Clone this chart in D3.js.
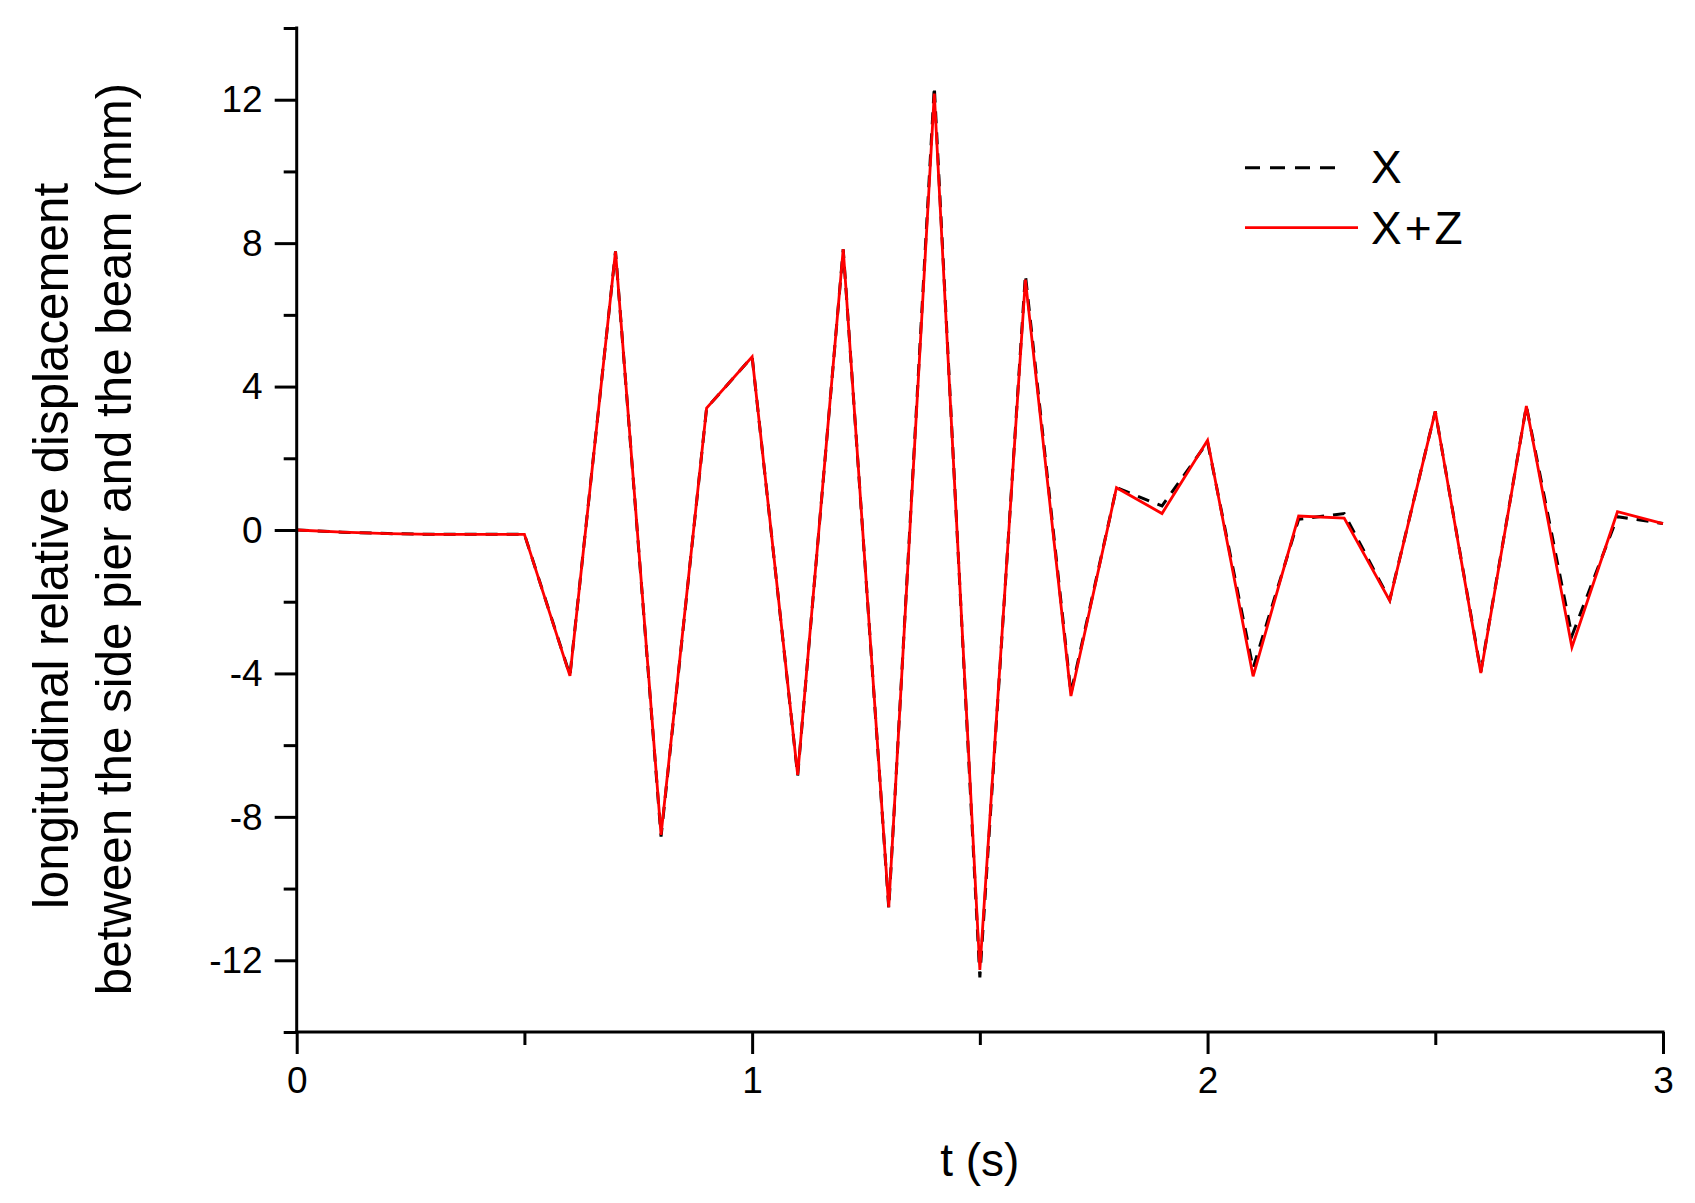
<!DOCTYPE html>
<html>
<head>
<meta charset="utf-8">
<script src="https://cdn.jsdelivr.net/npm/d3@7"></script>
<style>
html,body{margin:0;padding:0;background:#fff;}
svg text{font-family:"Liberation Sans", Arial, sans-serif;fill:#000;}
</style>
</head>
<body>
<svg id="chart" width="1695" height="1203"></svg>
<script>
const timeS = [0,0.1,0.2,0.3,0.4,0.5,0.6,0.7,0.8,0.9,1.0,1.1,1.2,1.3,1.4,1.5,1.6,1.7,1.8,1.9,2.0,2.1,2.2,2.3,2.4,2.5,2.6,2.7,2.8,2.9,3.0];
const seriesX = [0,-0.06,-0.1,-0.12,-0.12,-0.12,-4.05,7.77,-8.55,3.4,4.83,-6.85,7.83,-10.55,12.37,-12.48,7.12,-4.55,1.18,0.67,2.45,-3.85,0.3,0.46,-1.95,3.31,-3.95,3.46,-2.95,0.37,0.18];
const seriesXZ = [0,-0.06,-0.1,-0.12,-0.12,-0.12,-4.07,7.77,-8.5,3.4,4.83,-6.83,7.83,-10.52,12.17,-12.27,6.98,-4.63,1.18,0.46,2.5,-4.08,0.39,0.33,-1.97,3.31,-3.99,3.46,-3.27,0.51,0.18];
const xMajorTicks = [0,1,2,3];
const xMinorTicks = [0.5,1.5,2.5];
const yMajorTicks = [-12,-8,-4,0,4,8,12];
const yMinorTicks = [-14,-10,-6,-2,2,6,10,14];
const seriesNames = ["X","X+Z"];
const xTitle = "t (s)";
const yTitle1 = "longitudinal relative displacement";
const yTitle2 = "between the side pier and the beam (mm)";

const svg = d3.select("#chart");
const L = 296.7, R = 1663, T = 28, B = 1032;
const x = d3.scaleLinear().domain([0,3]).range([L,R]);
const y = d3.scaleLinear().domain([-14,14]).range([B,T]);

// data lines
const line = (vals) => d3.line().x((d,i)=>x(timeS[i])).y(d=>y(d))(vals);
svg.append("path").attr("d", line(seriesX)).attr("fill","none")
  .attr("stroke","#000").attr("stroke-width",3).attr("stroke-dasharray","12,9");
svg.append("path").attr("d", line(seriesXZ)).attr("fill","none")
  .attr("stroke","#ff0000").attr("stroke-width",2.8).attr("stroke-linejoin","miter");

// axes
const fmt = d => String(d);
const gx = svg.append("g").attr("transform",`translate(0,${B})`);
gx.call(d3.axisBottom(x).tickValues(xMajorTicks).tickSize(22).tickPadding(12).tickFormat(fmt));
const gxm = svg.append("g").attr("transform",`translate(0,${B})`);
gxm.call(d3.axisBottom(x).tickValues(xMinorTicks).tickSize(13).tickFormat(""));
const gy = svg.append("g").attr("transform",`translate(${L},0)`);
gy.call(d3.axisLeft(y).tickValues(yMajorTicks).tickSize(22).tickPadding(12).tickFormat(fmt));
const gym = svg.append("g").attr("transform",`translate(${L},0)`);
gym.call(d3.axisLeft(y).tickValues(yMinorTicks).tickSize(13).tickFormat(""));

[gx,gxm,gy,gym].forEach(g=>{
  g.select(".domain").remove();
  g.selectAll(".tick line").attr("stroke","#000").attr("stroke-width",3);
  g.selectAll(".tick text").attr("font-size",37).attr("font-family","Liberation Sans, Arial, sans-serif").attr("fill","#000");
});
gy.selectAll(".tick text").attr("dy","0.33em");
gx.selectAll(".tick text").attr("dy","0.72em");

svg.append("line").attr("x1",L).attr("x2",L).attr("y1",T-1.5).attr("y2",B+1.5).attr("stroke","#000").attr("stroke-width",3);
svg.append("line").attr("x1",L-1.5).attr("x2",R+1.5).attr("y1",B).attr("y2",B).attr("stroke","#000").attr("stroke-width",3);

// axis titles
svg.append("text").attr("x",(L+R)/2).attr("y",1176).attr("text-anchor","middle").attr("font-size",46).text(xTitle);
svg.append("text").attr("transform","translate(68,546) rotate(-90)").attr("text-anchor","middle").attr("font-size",49.3).text(yTitle1);
svg.append("text").attr("transform","translate(131,539) rotate(-90)").attr("text-anchor","middle").attr("font-size",49.3).text(yTitle2);

// legend
svg.append("line").attr("x1",1245).attr("x2",1337).attr("y1",167.7).attr("y2",167.7)
  .attr("stroke","#000").attr("stroke-width",3).attr("stroke-dasharray","15,10");
svg.append("line").attr("x1",1245).attr("x2",1358).attr("y1",227.7).attr("y2",227.7)
  .attr("stroke","#ff0000").attr("stroke-width",2.8);
svg.append("text").attr("x",1371).attr("y",183).attr("font-size",46).text(seriesNames[0]);
svg.append("text").attr("x",1371).attr("y",244).attr("font-size",46).attr("letter-spacing",3).text(seriesNames[1]);
</script>
</body>
</html>
